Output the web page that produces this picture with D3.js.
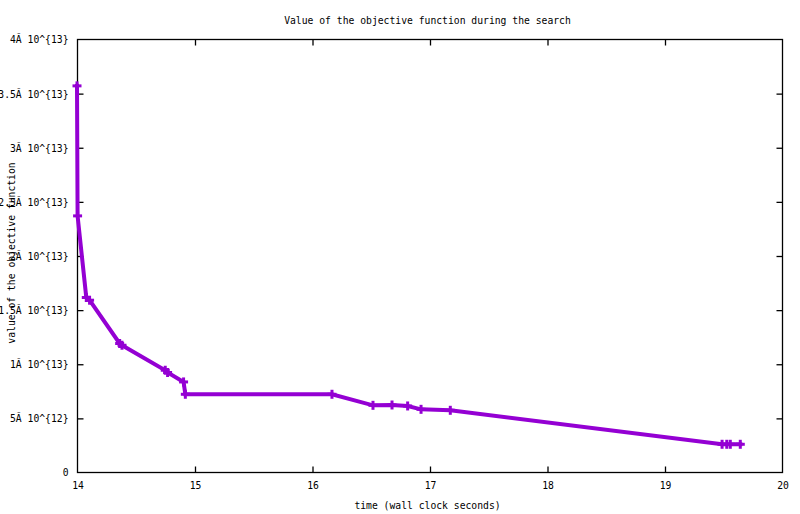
<!DOCTYPE html>
<html>
<head>
<meta charset="utf-8">
<script src="https://cdn.jsdelivr.net/npm/d3@7"></script>
<style>
  html, body { margin: 0; padding: 0; background: #fff; }
  svg { display: block; }
  text { font-family: "DejaVu Sans Mono", "Liberation Mono", monospace; font-size: 10.8px; fill: #000; }
</style>
</head>
<body>
<svg id="chart" width="800" height="514"></svg>
<script>
const times = [14.0, 14.005, 14.079, 14.107, 14.363, 14.383, 14.751, 14.771, 14.907, 14.922,
               16.170, 16.519, 16.681, 16.814, 16.928, 17.177, 19.49, 19.53, 19.56, 19.645];
const values = [3.567e13, 2.366e13, 1.612e13, 1.587e13, 1.187e13, 1.171e13, 9.40e12, 9.19e12, 8.32e12, 7.18e12,
                7.18e12, 6.16e12, 6.19e12, 6.10e12, 5.79e12, 5.70e12, 2.56e12, 2.56e12, 2.56e12, 2.56e12];
const xTicks = [14, 15, 16, 17, 18, 19, 20];
const yTicks = [0, 5e12, 1e13, 1.5e13, 2e13, 2.5e13, 3e13, 3.5e13, 4e13];
const yTickLabels = ["0", "5Ã 10^{12}", "1Ã 10^{13}", "1.5Ã 10^{13}", "2Ã 10^{13}",
                     "2.5Ã 10^{13}", "3Ã 10^{13}", "3.5Ã 10^{13}", "4Ã 10^{13}"];
const titleText = "Value of the objective function during the search";
const xLabelText = "time (wall clock seconds)";
const yLabelText = "value of the objective function";

const svg = d3.select("#chart");
const L = 77, R = 782, T = 39, B = 472;
const x = d3.scaleLinear().domain([14, 20]).range([L, R]);
const y = d3.scaleLinear().domain([0, 4e13]).range([B, T]);
const color = "#9400D3";
const tickLen = 6;
const charW = 5.85;

const data = times.map((t, i) => ({ t, v: values[i] }));

// border
svg.append("rect")
  .attr("x", L + 0.5).attr("y", T + 0.5)
  .attr("width", R - L).attr("height", B - T)
  .attr("fill", "none").attr("stroke", "#000").attr("stroke-width", 1.3);

// bottom axis (inward ticks)
const xAxis = d3.axisBottom(x).tickValues(xTicks).tickFormat(d3.format("d"))
  .tickSizeInner(-tickLen).tickSizeOuter(0).tickPadding(12);
const gx = svg.append("g").attr("transform", `translate(0.5,${B + 0.5})`).call(xAxis);
gx.select(".domain").remove();
gx.selectAll("line").attr("stroke", "#000").attr("stroke-width", 1.3);
gx.selectAll("text").attr("dy", "0.71em").attr("y", 9);

// top mirror ticks
const xTop = d3.axisTop(x).tickValues(xTicks).tickFormat("").tickSizeInner(-tickLen).tickSizeOuter(0);
const gxt = svg.append("g").attr("transform", `translate(0.5,${T + 0.5})`).call(xTop);
gxt.select(".domain").remove();
gxt.selectAll("line").attr("stroke", "#000").attr("stroke-width", 1.3);

// left axis
const yAxis = d3.axisLeft(y).tickValues(yTicks).tickFormat((d, i) => yTickLabels[i])
  .tickSizeInner(-tickLen).tickSizeOuter(0).tickPadding(9);
const gy = svg.append("g").attr("transform", `translate(${L + 0.5},0.5)`).call(yAxis);
gy.select(".domain").remove();
gy.selectAll("line").attr("stroke", "#000").attr("stroke-width", 1.3);
gy.selectAll("text").attr("x", -9);

// right mirror ticks
const yRight = d3.axisRight(y).tickValues(yTicks).tickFormat("").tickSizeInner(-tickLen).tickSizeOuter(0);
const gyr = svg.append("g").attr("transform", `translate(${R + 0.5},0.5)`).call(yRight);
gyr.select(".domain").remove();
gyr.selectAll("line").attr("stroke", "#000").attr("stroke-width", 1.3);

// remove ticks overlapping the border corners
[gx, gxt].forEach(g => g.selectAll(".tick").filter(d => d === 14 || d === 20).select("line").remove());
[gy, gyr].forEach(g => g.selectAll(".tick").filter(d => d === 0 || d === 4e13).select("line").remove());

svg.selectAll(".tick text")
  .style("font-family", "'DejaVu Sans Mono', 'Liberation Mono', monospace")
  .style("font-size", "10.8px");

// line
const line = d3.line().x(d => x(d.t)).y(d => y(d.v));
svg.append("path").datum(data)
  .attr("d", line).attr("fill", "none")
  .attr("stroke", color).attr("stroke-width", 4)
  .attr("stroke-linejoin", "miter").attr("stroke-linecap", "square");

// '+' markers
const ms = 4.5;
const mk = svg.append("g").attr("stroke", color).attr("stroke-width", 3).attr("stroke-linecap", "butt");
data.forEach(d => {
  const cx = x(d.t), cy = y(d.v);
  mk.append("line").attr("x1", cx - ms).attr("x2", cx + ms).attr("y1", cy).attr("y2", cy);
  mk.append("line").attr("x1", cx).attr("x2", cx).attr("y1", cy - ms).attr("y2", cy + ms);
});

// title and labels
svg.append("text").attr("x", (L + R) / 2 - 2).attr("y", 20).attr("dy", "0.35em")
  .attr("text-anchor", "middle").text(titleText);
svg.append("text").attr("x", (L + R) / 2 - 2).attr("y", 505).attr("dy", "0.35em")
  .attr("text-anchor", "middle").text(xLabelText);
svg.append("text").attr("transform", "translate(11,253) rotate(-90)").attr("dy", "0.35em")
  .attr("text-anchor", "middle").text(yLabelText);

// condense glyphs to the reference's narrow monospace width
svg.selectAll("text").each(function () {
  const s = d3.select(this);
  const n = s.text().length;
  if (n > 0) s.attr("textLength", n * charW).attr("lengthAdjust", "spacingAndGlyphs");
});
</script>
</body>
</html>
